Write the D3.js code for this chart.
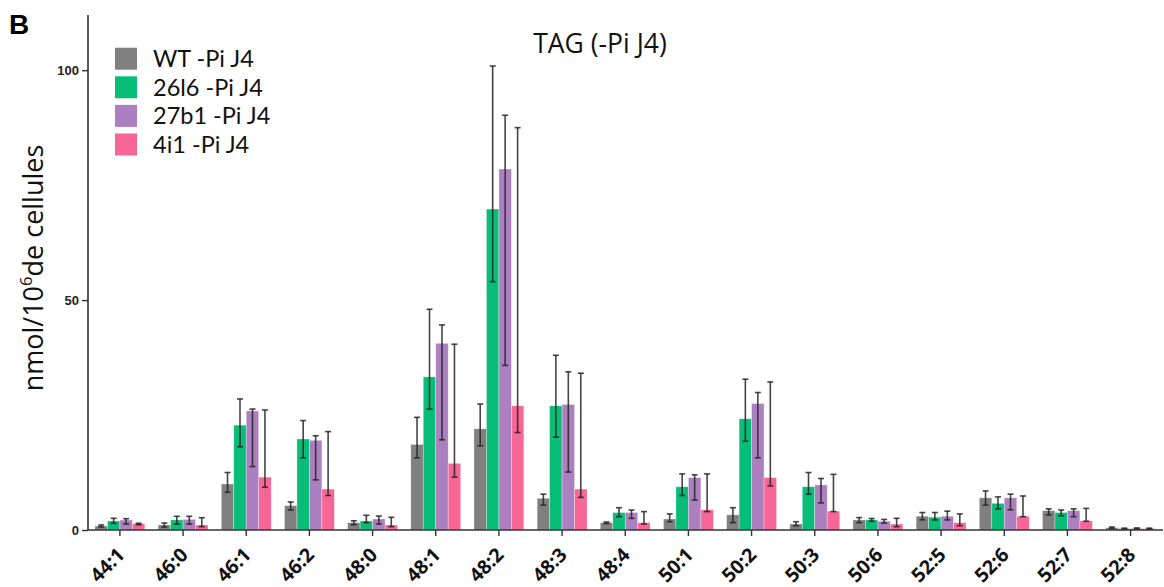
<!DOCTYPE html>
<html>
<head>
<meta charset="utf-8">
<script src="https://cdn.jsdelivr.net/npm/d3@7"></script>
<style>
  html, body { margin: 0; padding: 0; background: #fff; }
  svg { display: block; }
</style>
</head>
<body>
<svg id="chart" width="1164" height="587"></svg>
<script>
// ---------------- DATA ----------------
const categories = ["44:1","46:0","46:1","46:2","48:0","48:1","48:2","48:3","48:4","50:1","50:2","50:3","50:6","52:5","52:6","52:7","52:8"];
const seriesNames = ["WT -Pi J4","26l6 -Pi J4","27b1 -Pi J4","4i1 -Pi J4"];
const seriesColors = ["#808080","#08BD78","#AC80C0","#F86597"];

// bar heights (nmol / 10^6 cells)
const wtMean   = [0.87, 1.1, 10.0, 5.3, 1.6, 18.6, 22.0, 6.9, 1.6, 2.4, 3.3, 1.3, 2.2, 3.0, 7.0, 4.2, 0.5];
const l26Mean  = [1.96, 2.2, 22.8, 19.8, 1.96, 33.3, 69.8, 27.0, 3.8, 9.4, 24.2, 9.4, 2.2, 2.8, 5.8, 3.8, 0.3];
const b27Mean  = [2.17, 2.3, 25.9, 19.5, 2.4, 40.6, 78.5, 27.3, 3.8, 11.4, 27.5, 9.8, 1.9, 3.0, 7.0, 4.2, 0.35];
const i41Mean  = [1.38, 1.1, 11.5, 8.9, 1.1, 14.5, 27.0, 8.9, 1.6, 4.4, 11.4, 4.1, 1.3, 1.6, 3.0, 2.0, 0.3];

// error bar lower / upper ends
const wtLow    = [0.65, 0.65, 8.2, 4.35, 1.15, 15.7, 18.3, 5.4, 1.4, 1.8, 1.6, 0.93, 1.6, 2.2, 5.4, 3.3, 0.35];
const wtHigh   = [1.09, 1.52, 12.5, 6.1, 2.0, 24.5, 27.4, 7.8, 1.75, 3.5, 4.85, 1.8, 2.7, 3.8, 8.5, 4.6, 0.65];
const l26Low   = [1.46, 1.3, 18.1, 15.7, 1.6, 26.3, 54.0, 20.2, 2.9, 7.5, 19.3, 7.8, 1.9, 2.2, 4.6, 3.1, 0.2];
const l26High  = [2.54, 2.98, 28.5, 23.8, 3.2, 48.0, 100.9, 38.0, 4.85, 12.2, 32.8, 12.5, 2.5, 3.8, 7.2, 4.35, 0.4];
const b27Low   = [1.3, 1.3, 13.8, 10.9, 1.3, 19.6, 35.8, 12.6, 2.54, 6.5, 15.7, 5.9, 1.5, 2.2, 4.4, 2.9, 0.25];
const b27High  = [2.46, 2.98, 26.3, 20.5, 3.04, 44.6, 90.2, 34.4, 4.35, 12.0, 29.9, 11.2, 2.3, 4.1, 7.8, 4.6, 0.45];
const i41Low   = [1.15, 0.72, 9.3, 7.5, 0.72, 11.5, 21.2, 7.1, 1.3, 4.0, 9.6, 4.0, 0.72, 0.93, 2.9, 1.9, 0.2];
const i41High  = [1.46, 2.67, 26.1, 21.4, 2.76, 40.4, 87.5, 34.1, 4.0, 12.2, 32.2, 12.1, 2.54, 3.5, 7.4, 4.7, 0.4];

const yTicks = [0, 50, 100];
const titleText = "TAG (-Pi J4)";
const panelLetter = "B";

// ---------------- BUILD ----------------
const means = [wtMean, l26Mean, b27Mean, i41Mean];
const lows  = [wtLow, l26Low, b27Low, i41Low];
const highs = [wtHigh, l26High, b27High, i41High];

const rows = categories.map((c, i) => ({
  cat: c,
  vals: seriesNames.map((s, k) => ({ series: s, k, value: means[k][i], lo: lows[k][i], hi: highs[k][i] }))
}));

const svg = d3.select("#chart");
const axisX = 88, axisY = 530, axisTop = 15;

const x0 = d3.scaleBand().domain(categories).range([axisX, 1162.5]).paddingInner(0.21).paddingOuter(0.11);
const x1 = d3.scaleBand().domain(seriesNames).range([0, x0.bandwidth()]).padding(0);
const y = d3.scaleLinear().domain([0, 112]).range([axisY, axisTop]);
const color = d3.scaleOrdinal().domain(seriesNames).range(seriesColors);

// bars
const g = svg.append("g");
const groups = g.selectAll("g.grp").data(rows).join("g")
  .attr("class", "grp")
  .attr("transform", d => `translate(${x0(d.cat)},0)`);

groups.selectAll("rect").data(d => d.vals).join("rect")
  .attr("x", d => x1(d.series))
  .attr("width", x1.bandwidth())
  .attr("y", d => y(d.value))
  .attr("height", d => y(0) - y(d.value))
  .attr("fill", d => color(d.series))
  .attr("stroke", "#ffffff")
  .attr("stroke-opacity", 0.45)
  .attr("stroke-width", 0.7);

// error bars
const capW = 6;
const eb = groups.selectAll("g.eb").data(d => d.vals).join("g").attr("class", "eb")
  .attr("stroke", "#252525").attr("stroke-opacity", 0.85).attr("stroke-width", 1.6);
eb.append("line")
  .attr("x1", d => x1(d.series) + x1.bandwidth() / 2)
  .attr("x2", d => x1(d.series) + x1.bandwidth() / 2)
  .attr("y1", d => y(d.lo)).attr("y2", d => y(d.hi));
eb.append("line")
  .attr("x1", d => x1(d.series) + x1.bandwidth() / 2 - capW / 2)
  .attr("x2", d => x1(d.series) + x1.bandwidth() / 2 + capW / 2)
  .attr("y1", d => y(d.hi)).attr("y2", d => y(d.hi));
eb.append("line")
  .attr("x1", d => x1(d.series) + x1.bandwidth() / 2 - capW / 2)
  .attr("x2", d => x1(d.series) + x1.bandwidth() / 2 + capW / 2)
  .attr("y1", d => y(d.lo)).attr("y2", d => y(d.lo));

// y axis
const yAxis = d3.axisLeft(y).tickValues(yTicks).tickSize(6).tickPadding(3).tickFormat(d3.format("d"));
const yg = svg.append("g").attr("transform", `translate(${axisX},0)`).call(yAxis);
yg.select(".domain").attr("d", `M0,${axisTop}V${axisY}`).attr("stroke", "#333").attr("stroke-width", 1.6);
yg.selectAll(".tick line").attr("stroke", "#333").attr("stroke-width", 1.4);
yg.selectAll(".tick text").attr("font-family", "'Liberation Sans', Arial, sans-serif")
  .attr("font-weight", "bold").attr("font-size", 13).attr("fill", "#222");

// x axis
const xAxis = d3.axisBottom(x0).tickSize(6).tickPadding(3);
const xg = svg.append("g").attr("transform", `translate(0,${axisY})`).call(xAxis);
xg.select(".domain").attr("d", `M${axisX},0H1163`).attr("stroke", "#333").attr("stroke-width", 1.6);
xg.selectAll(".tick line").attr("stroke", "#333").attr("stroke-width", 1.4);
xg.selectAll(".tick text")
  .attr("font-family", "'Open Sans', sans-serif")
  .attr("font-weight", "bold").attr("font-size", 19.5).attr("fill", "#111")
  .attr("text-anchor", "end")
  .attr("x", 0).attr("y", 0).attr("dy", null)
  .attr("transform", "translate(6,26) rotate(-45)");

// y label
svg.append("text")
  .attr("transform", `translate(43,268) rotate(-90)`)
  .attr("text-anchor", "middle")
  .attr("font-family", "'Open Sans', sans-serif")
  .attr("font-size", 27).attr("fill", "#111")
  .call(t => {
    t.append("tspan").text("nmol/10");
    t.append("tspan").attr("font-size", 16.5).attr("dy", -11).text("6");
    t.append("tspan").attr("dy", 11).text("de cellules");
  });

// title
svg.append("text")
  .attr("x", 600).attr("y", 53)
  .attr("text-anchor", "middle")
  .attr("font-family", "'Open Sans', sans-serif")
  .attr("font-size", 26.5).attr("fill", "#111")
  .text(titleText);

// panel letter
svg.append("text")
  .attr("x", 9).attr("y", 34)
  .attr("font-family", "'Liberation Sans', Arial, sans-serif")
  .attr("font-weight", "bold").attr("font-size", 28).attr("fill", "#000")
  .text(panelLetter);

// legend
const leg = svg.append("g");
const legRows = leg.selectAll("g").data(seriesNames).join("g")
  .attr("transform", (d, i) => `translate(115,${47.7 + i * 28.6})`);
legRows.append("rect").attr("width", 22).attr("height", 22).attr("fill", d => color(d));
legRows.append("text")
  .attr("x", 38).attr("y", 19.5)
  .attr("font-family", "Lato, sans-serif")
  .attr("font-size", 23.5).attr("fill", "#111")
  .text(d => d);
</script>
</body>
</html>
